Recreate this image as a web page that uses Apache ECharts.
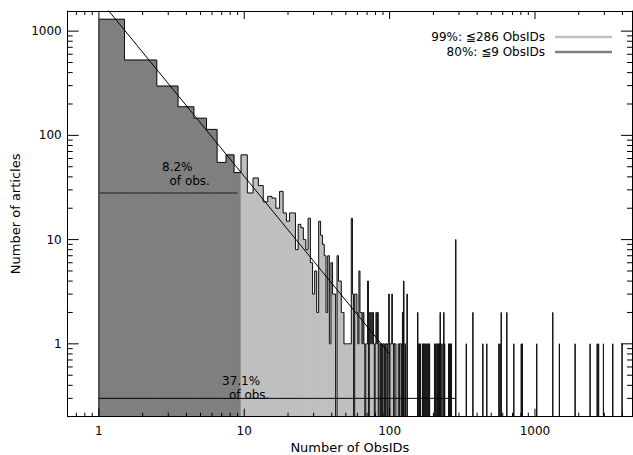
<!DOCTYPE html>
<html><head><meta charset="utf-8">
<script src="https://cdn.jsdelivr.net/npm/echarts@6/dist/echarts.min.js"></script>
<style>html,body{margin:0;padding:0;background:#fff}#c{width:633px;height:455px}</style>
</head><body><div id="c"></div>
<script>
// Histogram counts for N = 1..100 ObsIDs per article
const denseCounts = [
  1300,528,297,188,146,114,55,65,44,65,
  28,39,33,23,26,25,20,29,18,15,
  18,18,8,14,13,10,8,16,6,3,
  5,2,15,11,9,7,2,7,1,6,
  3,3,0,7,4,4,2,2,1,1,
  1,1,1,1,16,3,0,3,3,2,
  1,5,2,2,1,2,1,0,1,1,
  4,0,2,1,2,1,2,1,0,1,
  2,1,2,0,1,1,0,1,0,1,
  1,0,1,0,1,1,0,1,3,0
];
// Sparse non-empty bins above N = 100
const sparseBins = [101,102,103,104,105,106,108,109,110,115,116,118,119,120,123,125,128,132,156,157,160,163,169,172,175,178,181,185,188,204,208,212,215,218,221,223,229,236,239,255,258,262,266,285,337,374,438,466,565,575,586,640,715,805,820,1028,1325,1472,1889,2395,2680,2740,2958,3428,3975];
const sparseCounts = [1,1,1,3,1,1,1,1,1,1,1,1,1,1,2,4,1,3,2,1,1,1,1,1,1,1,1,1,1,1,1,1,1,1,1,2,1,2,1,1,1,1,1,10,1,2,1,1,1,1,2,2,1,1,1,1,2,1,1,1,1,1,1,1,1];
// Power-law fit line endpoints
const fitLine = [[1, 2040], [100, 0.8]];
// Cumulative-fraction markers
const line80 = [[1, 28], [9, 28]];
const line99 = [[1, 0.3], [286, 0.3]];
const limit80 = 9, limit99 = 286;
// Axis ranges and ticks
const xRange = [0.61, 4650];
const yRange = [0.2, 1560];
const xLabelValues = [1, 10, 100, 1000];
const yLabelValues = [1, 10, 100, 1000];
const xMinorTicks = [0.7,0.8,0.9,2,3,4,5,6,7,8,9,20,30,40,50,60,70,80,90,200,300,400,500,600,700,800,900,2000,3000,4000];
const yMinorTicks = [0.3,0.4,0.5,0.6,0.7,0.8,0.9,2,3,4,5,6,7,8,9,20,30,40,50,60,70,80,90,200,300,400,500,600,700,800,900];

const FONT = 'DejaVu Sans';
const DARK = '#7f7f7f', LIGHT = '#bfbfbf';

// build full count lookup
const countOf = {};
denseCounts.forEach((c, i) => { countOf[i + 1] = c; });
sparseBins.forEach((n, i) => { countOf[n] = sparseCounts[i]; });
const maxN = sparseBins[sparseBins.length - 1] + 1;
const bins = [];
for (let n = 1; n <= maxN; n++) {
  const c = countOf[n] || 0;
  const prev = n > 1 ? (countOf[n - 1] || 0) : 0;
  if (c > 0 || prev > 0) {
    bins.push([n === 1 ? 1 : n - 0.5, n + 0.5, c, prev, n]);
  }
}

function renderFill(params, api) {
  const c = api.value(2);
  if (!(c > 0)) return null;
  const n = api.value(4);
  const cs = params.coordSys;
  const bottom = cs.y + cs.height;
  const p0 = api.coord([api.value(0), c]);
  const p1 = api.coord([api.value(1), c]);
  const color = n <= limit80 ? DARK : LIGHT;
  return {type: 'rect', shape: {x: p0[0], y: p0[1], width: p1[0] - p0[0], height: bottom - p0[1]},
    style: {fill: color, stroke: color, lineWidth: 0.8}};
}
function renderOutline(params, api) {
  const lo = api.value(0), hi = api.value(1), c = api.value(2), prev = api.value(3);
  const cs = params.coordSys, bottom = cs.y + cs.height;
  const xLo = api.coord([lo, 1])[0], xHi = api.coord([hi, 1])[0];
  const yTop = c > 0 ? api.coord([lo, c])[1] : bottom;
  const yPrev = prev > 0 ? api.coord([lo, prev])[1] : bottom;
  return {type: 'polyline', shape: {points: [[xLo, yPrev], [xLo, yTop], [xHi, yTop]]},
    style: {stroke: '#111', lineWidth: 1, fill: null}};
}
function renderXTick(params, api) {
  const cs = params.coordSys;
  const x = api.coord([api.value(0), 1])[0];
  const len = api.value(2) ? 8 : 4;
  const b = cs.y + cs.height;
  return {type: 'group', children: [
    {type: 'line', shape: {x1: x, y1: b, x2: x, y2: b - len}, style: {stroke: '#000', lineWidth: 1}},
    {type: 'line', shape: {x1: x, y1: cs.y, x2: x, y2: cs.y + len}, style: {stroke: '#000', lineWidth: 1}}
  ]};
}
function renderYTick(params, api) {
  const cs = params.coordSys;
  const y = api.coord([1, api.value(1)])[1];
  const len = api.value(2) ? 11 : 5;
  const r = cs.x + cs.width;
  return {type: 'group', children: [
    {type: 'line', shape: {x1: cs.x, y1: y, x2: cs.x + len, y2: y}, style: {stroke: '#000', lineWidth: 1}},
    {type: 'line', shape: {x1: r, y1: y, x2: r - len, y2: y}, style: {stroke: '#000', lineWidth: 1}}
  ]};
}
const xTickData = xLabelValues.map(v => [v, 1, 1]).concat(xMinorTicks.map(v => [v, 1, 0]));
const yTickData = yLabelValues.map(v => [1, v, 1]).concat(yMinorTicks.map(v => [1, v, 0]));

const labelFmt = (vals) => (v) => {
  const hit = vals.find(t => Math.abs(t - v) / t < 1e-6);
  return hit !== undefined ? String(hit) : '';
};
const axisCommon = {
  type: 'log', logBase: 10, z: 10,
  axisLine: {show: true, onZero: false, lineStyle: {color: '#000', width: 1}},
  axisTick: {show: false}, splitLine: {show: false}, minorTick: {show: false}
};
const annoStyle = (text) => ({text: text, font: '12px "DejaVu Sans"', fill: '#000', textAlign: 'left', textVerticalAlign: 'middle', lineHeight: 11});

const chart = echarts.init(document.getElementById('c'), null, {renderer: 'svg'});
chart.setOption({
  animation: false,
  backgroundColor: '#fff',
  grid: {left: 67.7, right: 1, top: 11, bottom: 38.3, containLabel: false, outerBoundsMode: 'none'},
  xAxis: [
    Object.assign({}, axisCommon, {position: 'bottom', min: xRange[0], max: xRange[1],
      axisLabel: {color: '#000', fontFamily: FONT, fontSize: 12, margin: 8, formatter: labelFmt(xLabelValues), hideOverlap: false},
      name: 'Number of ObsIDs', nameLocation: 'middle', nameGap: 24, nameMoveOverlap: false,
      nameTextStyle: {color: '#000', fontFamily: FONT, fontSize: 13}}),
    Object.assign({}, axisCommon, {position: 'top', min: xRange[0], max: xRange[1], axisLabel: {show: false}})
  ],
  yAxis: [
    Object.assign({}, axisCommon, {position: 'left', min: yRange[0], max: yRange[1],
      axisLabel: {color: '#000', fontFamily: FONT, fontSize: 12, margin: 6, formatter: labelFmt(yLabelValues), hideOverlap: false},
      name: 'Number of articles', nameLocation: 'middle', nameRotate: 90, nameGap: 46, nameMoveOverlap: false,
      nameTextStyle: {color: '#000', fontFamily: FONT, fontSize: 13}}),
    Object.assign({}, axisCommon, {position: 'right', min: yRange[0], max: yRange[1], axisLabel: {show: false}})
  ],
  legend: {
    orient: 'vertical', right: 21, top: 29.5, align: 'right', padding: 0, itemGap: 0,
    itemWidth: 57, itemHeight: 2.5, icon: 'rect', selectedMode: false,
    textStyle: {color: '#000', fontFamily: FONT, fontSize: 12, lineHeight: 15, padding: [0, 5, 0, 0]},
    data: ['99%: ≦286 ObsIDs', '80%: ≦9 ObsIDs']
  },
  graphic: [
    {type: 'text', x: 162, y: 167, z: 100, style: annoStyle('8.2%')},
    {type: 'text', x: 169.5, y: 181, z: 100, style: annoStyle('of obs.')},
    {type: 'text', x: 222, y: 380.5, z: 100, style: annoStyle('37.1%')},
    {type: 'text', x: 229, y: 394.5, z: 100, style: annoStyle('of obs.')}
  ],
  series: [
    {name: 'fill', type: 'custom', renderItem: renderFill, data: bins, encode: {x: [0, 1], y: 2}, clip: true, z: 1, silent: true, progressive: 0},
    {name: 'outline', type: 'custom', renderItem: renderOutline, data: bins, encode: {x: [0, 1], y: 2}, clip: true, z: 2, silent: true, progressive: 0},
    {name: 'fit', type: 'line', data: fitLine, symbol: 'none', clip: true, z: 3, lineStyle: {color: '#000', width: 1}},
    {name: 'm80', type: 'line', data: line80, symbol: 'none', z: 3, lineStyle: {color: '#404040', width: 1.5}},
    {name: 'm99', type: 'line', data: line99, symbol: 'none', z: 3, lineStyle: {color: '#000', width: 1}},
    {name: 'xticks', type: 'custom', renderItem: renderXTick, data: xTickData, encode: {x: 0, y: 1}, z: 5, silent: true},
    {name: 'yticks', type: 'custom', renderItem: renderYTick, data: yTickData, encode: {x: 0, y: 1}, z: 5, silent: true},
    {name: '99%: ≦286 ObsIDs', type: 'line', data: [], color: '#c0c0c0', symbol: 'none'},
    {name: '80%: ≦9 ObsIDs', type: 'line', data: [], color: '#808080', symbol: 'none'}
  ]
});
</script></body></html>
